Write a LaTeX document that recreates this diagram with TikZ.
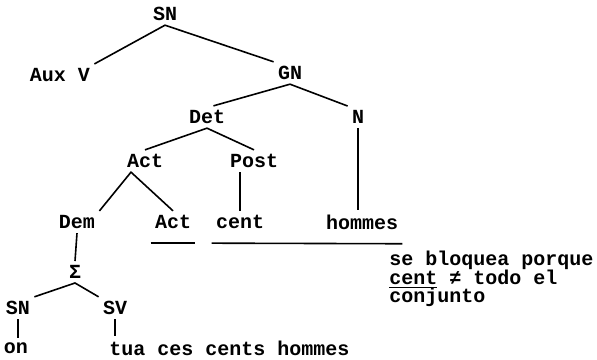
\documentclass[tikz,border=0pt]{standalone}
\usepackage{fontspec}
\setmonofont{Liberation Mono}
\usetikzlibrary{positioning}
\tikzset{
  lbl/.style={font=\ttfamily\bfseries\fontsize{10}{8.75}\selectfont,inner sep=2pt},
  note/.style={lbl,align=left,inner sep=0pt},
  branch/.style={line width=0.8pt},
}

\begin{document}
\begin{tikzpicture}[x=0.5pt,y=-0.5pt]
  \useasboundingbox (0,0) rectangle (597,359);
  % tree nodes
  \node[lbl] (sn) at (165,14) {SN};
  \node[lbl] (auxv) at (60,75) {Aux V};
  \node[lbl] (gn) at (290,73) {GN};
  \node[lbl] (det) at (207,117) {Det};
  \node[lbl] (n) at (358,117) {N};
  \node[lbl] (act) at (145,161) {Act};
  \node[lbl] (post) at (254,161) {Post};
  \node[lbl] (dem) at (77,222) {Dem};
  \node[lbl] (act2) at (173,222) {Act};
  \node[lbl] (cent) at (240,222) {cent};
  \node[lbl] (hommes) at (362,222) {hommes};
  \node[lbl] (sigma) at (75,272) {Σ};
  \node[lbl] (sn2) at (18,308) {SN};
  \node[lbl] (sv) at (115,308) {SV};
  \node[lbl] (on) at (16,348) {on};
  \node[lbl,anchor=west] (tua) at (105,348) {tua ces cents hommes};
  \node[note,anchor=north west] (blk) at (389,251)
    {se bloquea porque\\[-0.9pt]\underline{cent} ≠ todo el\\[-1.4pt]conjunto};
  % branches
  \draw[branch] (auxv.north east) -- (sn.south) -- (gn.north west);
  \draw[branch] (det.60) -- (gn.south) -- (n.north west);
  \draw[branch] (act.north) -- (det.south) -- (post.north);
  \draw[branch] (dem.north east) -- ([xshift=-7pt]act.south) -- (act2.north);
  \draw[branch] (cent.north |- post.south) -- (cent.north);
  \draw[branch] (n.south) -- (n.south |- hommes.north);
  \draw[branch] (dem.south) -- (sigma.north);
  \draw[branch] (sn2.north east) -- (sigma.south) -- (sv.north west);
  \draw[branch] (sn2.south) -- (sn2.south |- on.north);
  \draw[branch] (sv.south) -- (sv.south |- tua.north);
  % underlines
  \draw[branch] ([yshift=-5pt]act2.south west) -- ([yshift=-5pt]act2.south east);
  \draw[branch] ([yshift=-5pt]cent.south west) -- ([yshift=-5pt]hommes.south east);
\end{tikzpicture}
\end{document}
